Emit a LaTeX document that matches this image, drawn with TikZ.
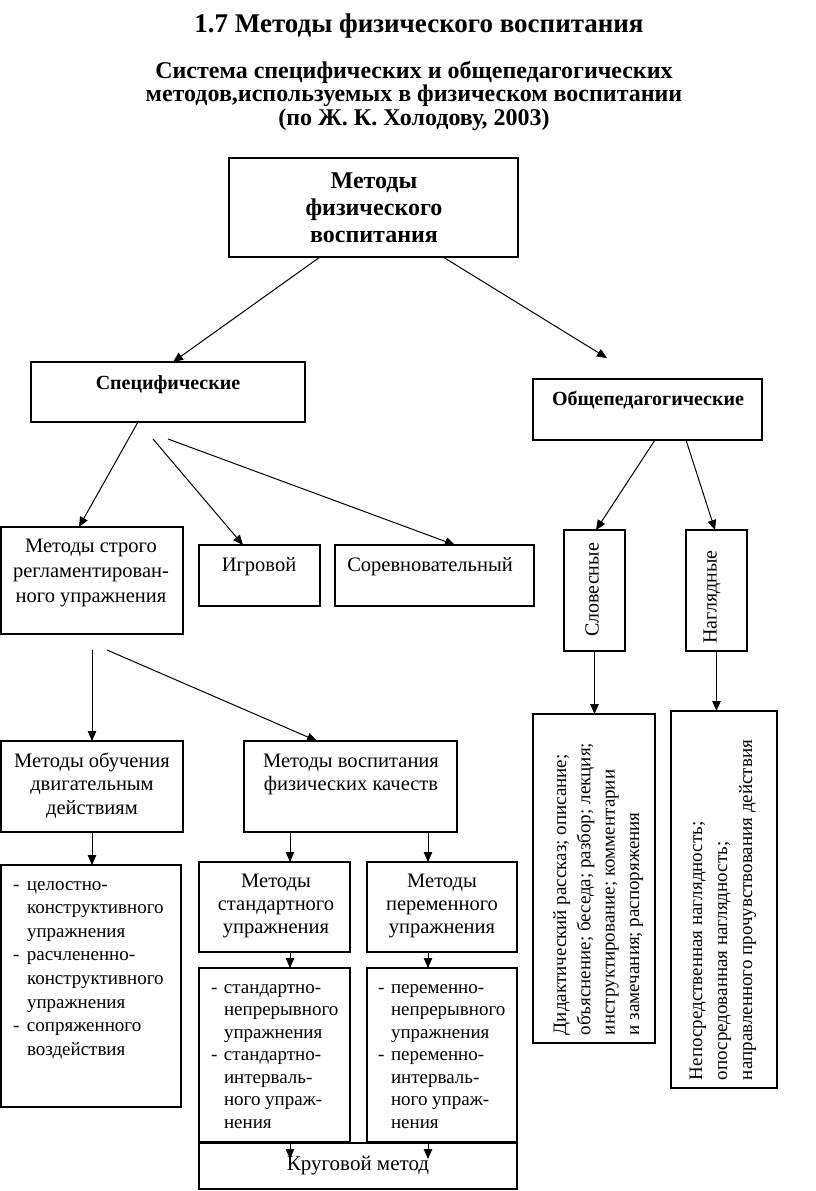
\documentclass[tikz,border=0pt]{standalone}
\usepackage{fontspec}
\setmainfont{Liberation Serif}
\usetikzlibrary{arrows.meta}
\begin{document}
\begin{tikzpicture}[x=1pt,y=-1pt,
  box/.style={draw, line width=1.1pt, inner sep=0pt, outer sep=0pt, anchor=north west},
  arr/.style={line width=1pt, -{Triangle[length=10pt,width=8.5pt]}},
  txt/.style={inner sep=0pt, outer sep=0pt, font=\fontsize{20.5}{23.5}\selectfont, align=center},
  btxt/.style={inner sep=0pt, outer sep=0pt, font=\fontsize{20}{24}\selectfont\bfseries, align=center},
  ltxt/.style={inner sep=0pt, outer sep=0pt, font=\fontsize{19}{23.6}\selectfont, align=left},
  rtxt/.style={inner sep=0pt, outer sep=0pt, font=\fontsize{19}{24.3}\selectfont, align=left, rotate=90}
]
\useasboundingbox (0,0) rectangle (816,1191);

% titles
\node[inner sep=0pt, font=\fontsize{27}{32}\selectfont\bfseries, anchor=base] (title) at (419,32) {1.7 Методы физического воспитания};
\node[inner sep=0pt, font=\fontsize{24}{23.5}\selectfont\bfseries, anchor=base, align=center] (sub) at (414,125) {Система специфических и общепедагогических\\методов,используемых в физическом воспитании\\(по Ж. К. Холодову, 2003)};

% boxes
\node[box, minimum width=289pt, minimum height=99pt] (top) at (229,158) {};
\node[box, minimum width=274pt, minimum height=60pt] (spec) at (31,362) {};
\node[box, minimum width=229pt, minimum height=61pt] (gen) at (533,379) {};
\node[box, minimum width=182pt, minimum height=107pt] (strogo) at (1,527) {};
\node[box, minimum width=121pt, minimum height=61pt] (igr) at (199,545) {};
\node[box, minimum width=199pt, minimum height=61pt] (sor) at (335,545) {};
\node[box, minimum width=61pt, minimum height=121pt] (slov) at (564,530) {};
\node[box, minimum width=61pt, minimum height=121pt] (nagl) at (686,530) {};
\node[box, minimum width=122pt, minimum height=329pt] (did) at (533,714) {};
\node[box, minimum width=106pt, minimum height=377pt] (nl) at (671,711) {};
\node[box, minimum width=182pt, minimum height=91pt] (ob) at (1,741) {};
\node[box, minimum width=213pt, minimum height=91pt] (vo) at (244,741) {};
\node[box, minimum width=180pt, minimum height=242pt] (lst) at (1,865) {};
\node[box, minimum width=151pt, minimum height=90pt] (std) at (199,862) {};
\node[box, minimum width=150pt, minimum height=90pt] (var) at (367,862) {};
\node[box, minimum width=151pt, minimum height=174pt] (stdl) at (199,968) {};
\node[box, minimum width=150pt, minimum height=174pt] (varl) at (367,968) {};
\node[box, minimum width=318pt, minimum height=46pt] (kr) at (199,1143) {};

% texts (multi-line nodes: base anchor = last line baseline)
\node[inner sep=0pt, font=\fontsize{24}{27}\selectfont\bfseries, align=center, anchor=base] (ttop) at (374,242) {Методы\\физического\\воспитания};
\node[btxt, anchor=base] (tspec) at (168,389) {Специфические};
\node[btxt, anchor=base] (tgen) at (648,405) {Общепедагогические};
\node[txt, anchor=base, font=\fontsize{20.5}{25}\selectfont] (tstrogo) at (91,602) {Методы строго\\регламентирован-\\ного упражнения};
\node[txt, anchor=base] (tigr) at (259,571) {Игровой};
\node[txt, anchor=base] (tsor) at (430,571) {Соревновательный};
\node[txt, rotate=90, anchor=center, font=\fontsize{20}{24}\selectfont] (tslov) at (592,590) {Словесные};
\node[txt, rotate=90, anchor=center, font=\fontsize{20}{24}\selectfont] (tnagl) at (712,597) {Наглядные};
\node[rtxt, anchor=base west] (tdid) at (639,1035) {Дидактический рассказ; описание;\\объяснение; беседа; разбор; лекция;\\инструктирование; комментарии\\и замечания; распоряжения};
\node[rtxt, anchor=base west, font=\fontsize{19}{25}\selectfont] (tnl) at (752,1080) {Непосредственная наглядность;\\опосредованная наглядность;\\направленного прочувствования действия};
\node[txt, anchor=base] (tob) at (92,814) {Методы обучения\\двигательным\\действиям};
\node[txt, anchor=base] (tvo) at (351,790.5) {Методы воспитания\\физических качеств};
\node[ltxt, anchor=base west] (tlst) at (13,1055.2) {\makebox[14pt][l]{-}целостно-\\\hspace*{14pt}конструктивного\\\hspace*{14pt}упражнения\\\makebox[14pt][l]{-}расчлененно-\\\hspace*{14pt}конструктивного\\\hspace*{14pt}упражнения\\\makebox[14pt][l]{-}сопряженного\\\hspace*{14pt}воздействия};
\node[txt, anchor=base, font=\fontsize{20.5}{23}\selectfont] (tstd) at (276,933) {Методы\\стандартного\\упражнения};
\node[txt, anchor=base, font=\fontsize{20.5}{23}\selectfont] (tvar) at (442,933) {Методы\\переменного\\упражнения};
\node[ltxt, anchor=base west, font=\fontsize{19}{22.5}\selectfont] (tstdl) at (211,1128) {\makebox[13pt][l]{-}стандартно-\\\hspace*{13pt}непрерывного\\\hspace*{13pt}упражнения\\\makebox[13pt][l]{-}стандартно-\\\hspace*{13pt}интерваль-\\\hspace*{13pt}ного упраж-\\\hspace*{13pt}нения};
\node[ltxt, anchor=base west, font=\fontsize{19}{22.5}\selectfont] (tvarl) at (378,1128) {\makebox[13pt][l]{-}переменно-\\\hspace*{13pt}непрерывного\\\hspace*{13pt}упражнения\\\makebox[13pt][l]{-}переменно-\\\hspace*{13pt}интерваль-\\\hspace*{13pt}ного упраж-\\\hspace*{13pt}нения};
\node[txt, anchor=base, font=\fontsize{21}{24}\selectfont] (tkr) at (358,1170) {Круговой метод};

% free ends
\coordinate (sp1) at (153,439);
\coordinate (sp2) at (168,439);
\coordinate (gt) at (607,358);
\coordinate (st1) at (92,650);
\coordinate (st2) at (107,650);

% connectors
\draw[arr] ([xshift=91pt]top.south west) -- ([xshift=142pt]spec.north west);
\draw[arr] ([xshift=214pt]top.south west) -- (gt);
\draw[arr] ([xshift=107pt]spec.south west) -- ([xshift=78pt]strogo.north west);
\draw[arr] (sp1) -- ([xshift=44pt]igr.north west);
\draw[arr] (sp2) -- ([xshift=120pt]sor.north west);
\draw[arr] ([xshift=122pt]gen.south west) -- ([xshift=32pt]slov.north west);
\draw[arr] ([xshift=153pt]gen.south west) -- ([xshift=29pt]nagl.north west);
\draw[arr] (slov.south) -- (slov.south |- did.north);
\draw[arr] (nagl.south) -- (nagl.south |- nl.north);
\draw[arr] (st1) -- (st1 |- ob.north);
\draw[arr] (st2) -- ([xshift=73pt]vo.north west);
\draw[arr] (ob.south) -- (ob.south |- lst.north);
\draw[arr] ([xshift=46pt]vo.south west) -- ([xshift=91pt]std.north west);
\draw[arr] ([xshift=184pt]vo.south west) -- ([xshift=61pt]var.north west);
\draw[arr] ([xshift=91pt]std.south west) -- ([xshift=91pt]stdl.north west);
\draw[arr] ([xshift=61pt]var.south west) -- ([xshift=61pt]varl.north west);
\draw[arr] ([xshift=91pt]stdl.south west) -- ([xshift=91pt,yshift=-16pt]kr.north west);
\draw[arr] ([xshift=61pt]varl.south west) -- ([xshift=229pt,yshift=-16pt]kr.north west);
\end{tikzpicture}
\end{document}
